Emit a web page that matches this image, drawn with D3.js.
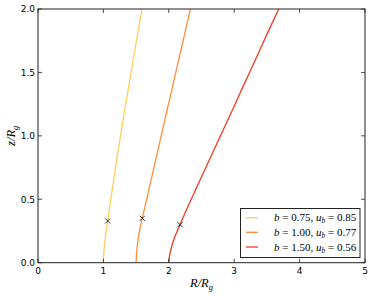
<!DOCTYPE html>
<html><head><meta charset="utf-8">
<script src="https://cdn.jsdelivr.net/npm/d3@7"></script>
<style>body{margin:0;background:#fff;} svg{display:block;}</style>
</head><body>
<svg id="c" width="374" height="296"></svg>
<script>
const zVals = [0, 0.05, 0.1, 0.2, 0.3, 0.4, 0.5, 0.6, 0.8, 1.0, 1.2, 1.4, 1.6, 1.8, 2.0];
const rYellow = [1.0, 1.003, 1.009, 1.03, 1.058, 1.087, 1.114, 1.142, 1.200, 1.261, 1.325, 1.39, 1.456, 1.523, 1.59];
const rOrange = [1.5, 1.504, 1.512, 1.535, 1.572, 1.617, 1.662, 1.706, 1.795, 1.884, 1.973, 2.062, 2.152, 2.241, 2.33];
const rRed    = [2.0, 2.01, 2.03, 2.09, 2.171, 2.255, 2.343, 2.432, 2.61, 2.79, 2.97, 3.145, 3.325, 3.50, 3.68];
const seriesNames = ["b=0.75, u_b=0.85", "b=1.00, u_b=0.77", "b=1.50, u_b=0.56"];
const legendB = ["0.75", "1.00", "1.50"];
const legendU = ["0.85", "0.77", "0.56"];
const colors = ["#fecc5c", "#fd8d3c", "#f03b20"];
const crossR = [1.066, 1.595, 2.171];
const crossZ = [0.329, 0.350, 0.300];
const xTicks = [0, 1, 2, 3, 4, 5];
const yTicks = [0.0, 0.5, 1.0, 1.5, 2.0];

const svg = d3.select("#c");
const L = 38, R = 365, T = 9, B = 262.7;
const x = d3.scaleLinear().domain([0, 5]).range([L, R]);
const y = d3.scaleLinear().domain([0, 2]).range([B, T]);

const g = svg.append("g");
svg.append("clipPath").attr("id", "clp").append("rect")
  .attr("x", L).attr("y", T).attr("width", R - L).attr("height", B - T);

const allR = [rYellow, rOrange, rRed];
const line = d3.line().x(d => x(d[0])).y(d => y(d[1])).curve(d3.curveMonotoneY);
allR.forEach((arr, i) => {
  const pts = arr.map((r, k) => [r, zVals[k]]);
  g.append("path").attr("d", line(pts)).attr("fill", "none")
    .attr("stroke", colors[i]).attr("stroke-width", 1.3).attr("clip-path", "url(#clp)");
});
crossR.forEach((r, i) => {
  const cx = x(r), cy = y(crossZ[i]), s = 2.6;
  g.append("path").attr("d", `M${cx-s},${cy-s}L${cx+s},${cy+s}M${cx-s},${cy+s}L${cx+s},${cy-s}`)
    .attr("stroke", "#222").attr("stroke-width", 0.9).attr("fill", "none");
});

svg.append("rect").attr("x", L).attr("y", T).attr("width", R - L).attr("height", B - T)
  .attr("fill", "none").attr("stroke", "#222").attr("stroke-width", 1);

const tk = 4;
const tg = svg.append("g").attr("stroke", "#222").attr("stroke-width", 0.8);
xTicks.forEach(t => {
  tg.append("line").attr("x1", x(t)).attr("x2", x(t)).attr("y1", B).attr("y2", B - tk);
  tg.append("line").attr("x1", x(t)).attr("x2", x(t)).attr("y1", T).attr("y2", T + tk);
});
yTicks.forEach(t => {
  tg.append("line").attr("x1", L).attr("x2", L + tk).attr("y1", y(t)).attr("y2", y(t));
  tg.append("line").attr("x1", R).attr("x2", R - tk).attr("y1", y(t)).attr("y2", y(t));
});
const fnt = "DejaVu Sans";
xTicks.forEach(t => {
  svg.append("text").attr("x", x(t)).attr("y", B + 11).attr("text-anchor", "middle")
    .attr("font-family", fnt).attr("font-size", 9).attr("fill", "#000").text(d3.format("d")(t));
});
yTicks.forEach(t => {
  svg.append("text").attr("x", L - 3).attr("y", y(t) + 3.3).attr("text-anchor", "end")
    .attr("font-family", fnt).attr("font-size", 9).attr("fill", "#000").text(d3.format(".1f")(t));
});

const serif = "Liberation Serif";
const xl = svg.append("text").attr("x", x(2.5)).attr("y", 287).attr("text-anchor", "middle")
  .attr("font-family", serif).attr("font-size", 12.5).attr("font-style", "italic");
xl.append("tspan").text("R/R");
xl.append("tspan").attr("font-size", 8.5).attr("dy", 2.5).text("g");
const yl = svg.append("text").attr("transform", `translate(15,${(T + B) / 2}) rotate(-90)`)
  .attr("text-anchor", "middle").attr("font-family", serif).attr("font-size", 12.5).attr("font-style", "italic");
yl.append("tspan").text("z/R");
yl.append("tspan").attr("font-size", 8.5).attr("dy", 2.5).text("g");

const lg = svg.append("g");
lg.append("rect").attr("x", 240.5).attr("y", 208.5).attr("width", 119.5).attr("height", 49)
  .attr("fill", "#fff").attr("stroke", "#222").attr("stroke-width", 1);
const rowsY = [217.7, 232.3, 247];
seriesNames.forEach((nm, i) => {
  lg.append("line").attr("x1", 246).attr("x2", 258).attr("y1", rowsY[i]).attr("y2", rowsY[i])
    .attr("stroke", colors[i]).attr("stroke-width", 1.3);
  const t = lg.append("text").attr("x", 274).attr("y", rowsY[i] + 3.7)
    .attr("font-family", serif).attr("font-size", 11);
  t.append("tspan").attr("font-style", "italic").text("b");
  t.append("tspan").text(" = " + legendB[i] + ", ");
  t.append("tspan").attr("font-style", "italic").text("u");
  t.append("tspan").attr("font-style", "italic").attr("font-size", 7.5).attr("dy", 2).text("b");
  t.append("tspan").attr("dy", -2).text(" = " + legendU[i]);
});
</script>
</body></html>
